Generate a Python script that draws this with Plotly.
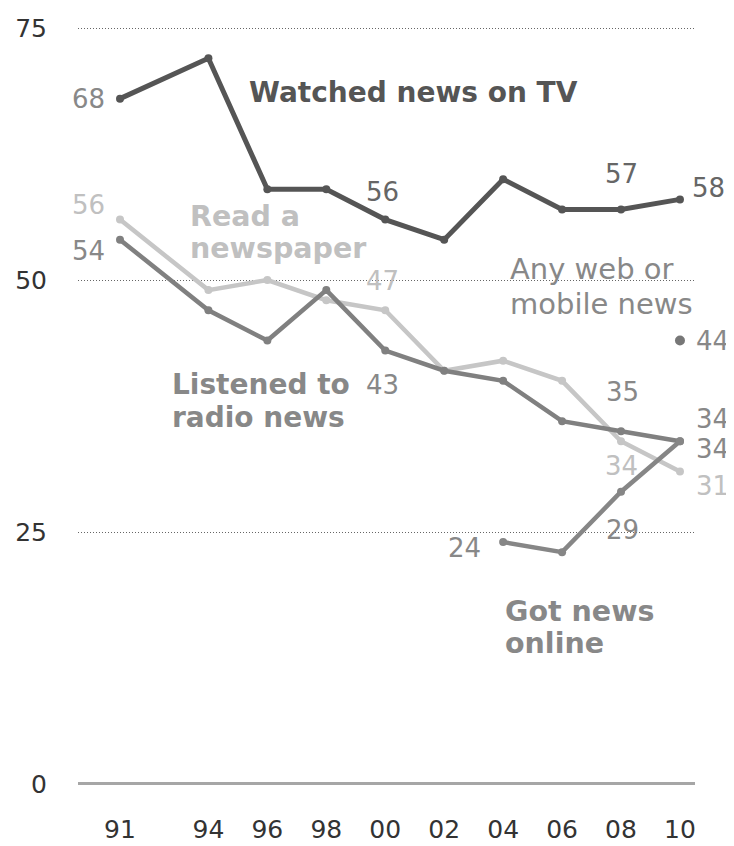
import plotly.graph_objects as go

years = [1991, 1994, 1996, 1998, 2000, 2002, 2004, 2006, 2008, 2010]
tick_labels = ["91", "94", "96", "98", "00", "02", "04", "06", "08", "10"]

tv = [68, 72, 59, 59, 56, 54, 60, 57, 57, 58]
newspaper = [56, 49, 50, 48, 47, 41, 42, 40, 34, 31]
radio = [54, 47, 44, 49, 43, 41, 40, 36, 35, 34]
online_years = [2004, 2006, 2008, 2010]
online = [24, 23, 29, 34]
web_mobile_years = [2010]
web_mobile = [44]

C_TV = "#555555"
C_NP = "#c6c6c6"
C_RADIO = "#808080"
C_ONLINE = "#868686"
C_TXT = "#888888"
C_TXT_NP = "#c0c0c0"

FONT = "DejaVu Sans"

fig = go.Figure()

def line(x, y, color, width=4.5, msize=8):
    fig.add_trace(go.Scatter(x=x, y=y, mode="lines+markers",
                             line=dict(color=color, width=width),
                             marker=dict(color=color, size=msize),
                             hoverinfo="skip", showlegend=False))

line(years, newspaper, C_NP)
line(years, radio, C_RADIO)
line(online_years, online, C_ONLINE)
line(years, tv, C_TV, width=5)
fig.add_trace(go.Scatter(x=web_mobile_years, y=web_mobile, mode="markers",
                         marker=dict(color="#777777", size=10),
                         hoverinfo="skip", showlegend=False))

def val(x, y, text, color, xanchor="center", xshift=0, yshift=0, size=26):
    fig.add_annotation(x=x, y=y, text=text, showarrow=False, xanchor=xanchor,
                       yanchor="middle", xshift=xshift, yshift=yshift,
                       font=dict(family=FONT, size=size, color=color))

# value labels
val(years[0], tv[0], str(tv[0]), C_TXT, "right", -13, 0)
val(years[0], newspaper[0], str(newspaper[0]), C_TXT_NP, "right", -13, 15)
val(years[0], radio[0], str(radio[0]), C_TXT, "right", -13, -11)
val(years[4], tv[4], str(tv[4]), "#666666", "center", -3, 28)
val(years[4], newspaper[4], str(newspaper[4]), C_TXT_NP, "center", -3, 29)
val(years[4], radio[4], str(radio[4]), C_TXT, "center", -3, -34)
val(years[8], tv[8], str(tv[8]), "#666666", "center", 0, 35)
val(years[9], tv[9], str(tv[9]), "#666666", "left", 10, 11)
val(years[8], radio[8], str(radio[8]), C_TXT, "center", 1, 39)
val(years[8], newspaper[8], str(newspaper[8]), C_TXT_NP, "center", 0, -25)
val(years[9], radio[9], str(radio[9]), C_TXT, "left", 14, 22)
val(online_years[3], online[3], str(online[3]), C_TXT, "left", 14, -8)
val(years[9], newspaper[9], str(newspaper[9]), C_TXT_NP, "left", 14, -14)
val(online_years[0], online[0], str(online[0]), C_TXT, "right", -20, -6)
val(online_years[2], online[2], str(online[2]), C_TXT, "center", 1, -38)
val(web_mobile_years[0], web_mobile[0], str(web_mobile[0]), C_TXT, "left", 14, 0)

def label(x, y, lines, color, bold=True, size=28, gap=3.2):
    for i, t in enumerate(lines):
        fig.add_annotation(x=x, y=y - i * gap, text=t, showarrow=False,
                           xanchor="left", yanchor="middle",
                           font=dict(family=FONT, size=size, color=color,
                                     weight="bold" if bold else "normal"))

label(1995.3, 68.6, ["Watched news on TV"], C_TV, size=28)
label(1993.3, 56.3, ["Read a", "newspaper"], C_TXT_NP, size=28.5)
label(1992.7, 39.6, ["Listened to", "radio news"], C_TXT)
label(2004.15, 51.1, ["Any web or", "mobile news"], C_TXT, bold=False, size=29, gap=3.5)
label(2004.0, 17.1, ["Got news", "online"], C_TXT, size=28.5)

# page body adds an 8px offset; figure sized to fill the 734x846 window
fig.update_layout(
    width=726, height=838,
    margin=dict(l=70, r=39, t=10, b=57, autoexpand=False),
    paper_bgcolor="white", plot_bgcolor="white",
    showlegend=False,
    font=dict(family=FONT, color="#333333"),
)
fig.update_xaxes(range=[1989.575, 2010.51], tickvals=years, ticktext=tick_labels,
                 showgrid=False, zeroline=False, showline=False, automargin=False,
                 ticks="", ticklabelstandoff=23,
                 tickfont=dict(family=FONT, size=25, color="#333333"))
fig.update_yaxes(range=[-0.5, 76], tickvals=[0, 25, 50, 75],
                 showgrid=True, gridcolor="#666666", gridwidth=1, griddash="1px,2px",
                 zeroline=True, zerolinecolor="#a6a6a6", zerolinewidth=3,
                 showline=False, automargin=False, ticks="", ticklabelstandoff=30,
                 tickfont=dict(family=FONT, size=25, color="#333333"))

fig.write_html("out.html")
